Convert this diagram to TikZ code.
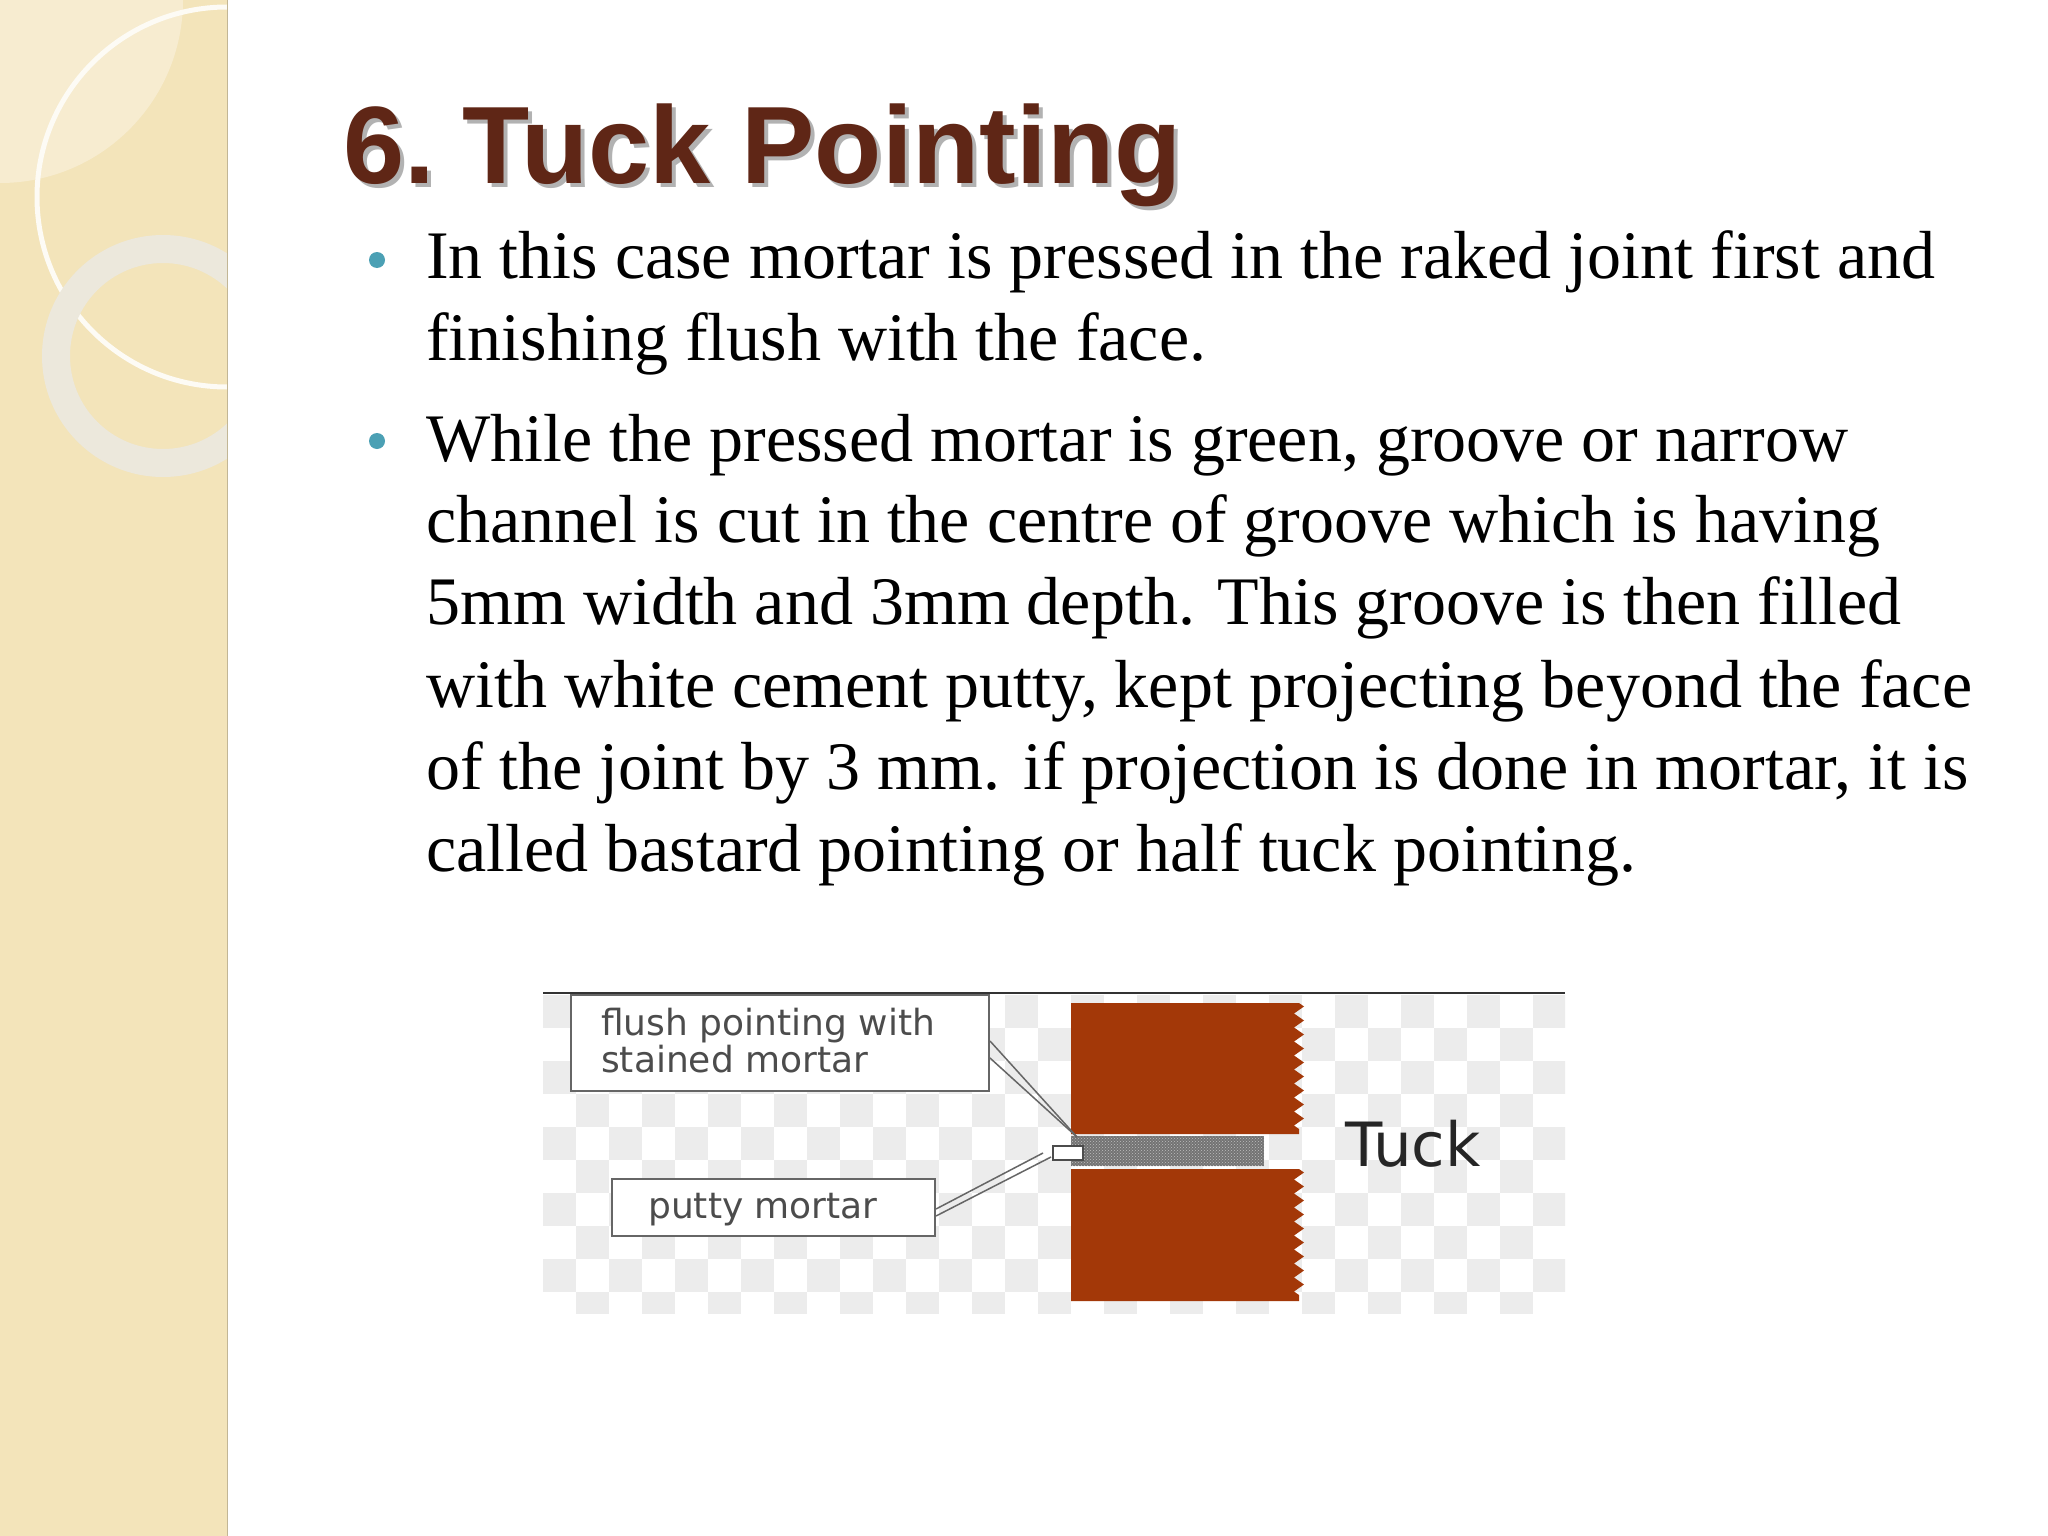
\documentclass[tikz,border=0pt]{standalone}
\usepackage{fontspec}
\setmainfont{Liberation Serif}
\newfontfamily\titlefont{Liberation Sans}
\newfontfamily\labfont{DejaVu Sans}
\usetikzlibrary{decorations.pathmorphing,patterns}
\definecolor{side}{RGB}{243,228,186}
\definecolor{sidelight}{RGB}{247,236,208}
\definecolor{ringc}{RGB}{236,232,220}
\definecolor{titlec}{RGB}{95,38,22}
\definecolor{bulc}{RGB}{75,160,180}
\definecolor{brick}{RGB}{163,56,8}
\definecolor{chk}{RGB}{236,236,236}
\tikzset{
  body/.style={anchor=base west,inner sep=0pt,font=\fontsize{68}{82}\selectfont},
  bul/.style={circle,fill=bulc,minimum size=16pt,inner sep=0pt},
  lab/.style={anchor=base west,inner sep=0pt,font=\labfont\fontsize{36}{40}\selectfont,text=black!70},
  labbox/.style={draw=black!60,line width=2pt,fill=white},
  lead/.style={draw=black!60,line width=1.5pt}
}
\begin{document}
\begin{tikzpicture}[x=1pt,y=-1pt]
\useasboundingbox (0,0) rectangle (2048,1536);
\fill[white] (0,0) rectangle (2048,1536);
% sidebar
\begin{scope}
\clip (0,0) rectangle (227,1536);
\fill[side] (0,0) rectangle (227,1536);
\fill[sidelight] (0,0) circle (183);
\draw[white!85!side,line width=5pt] (227,197) circle (190);
\draw[ringc,line width=28pt] (163,356) circle (107);
\end{scope}
\draw[side!80!black,line width=1pt] (227,0) -- (227,1536);
% title
\node[anchor=base west,inner sep=0pt,text=black!30,font=\titlefont\bfseries\fontsize{110}{120}\selectfont] (tsh) at (347,187) {6.\hspace{-0.12em} Tuck Pointing};
\node[anchor=base west,inner sep=0pt,text=titlec,font=\titlefont\bfseries\fontsize{110}{120}\selectfont] (title) at (343,183) {6.\hspace{-0.12em} Tuck Pointing};
% bullets
\node[bul] (b1) at (377,260) {};
\node[bul] (b2) at (377,441) {};
\node[body] (l1) at (426,278) {In this case mortar is pressed in the raked joint first and};
\node[body] (l2) at (426,360) {finishing flush with the face.};
\node[body] (l3) at (426,461) {While the pressed mortar is green, groove or narrow};
\node[body] (l4) at (426,542) {channel is cut in the centre of groove which is having};
\node[body] (l5) at (426,624) {5mm width and 3mm depth. This groove is then filled};
\node[body] (l6) at (426,707) {with white cement putty, kept projecting beyond the face};
\node[body] (l7) at (426,789) {of the joint by 3 mm. if projection is done in mortar, it is};
\node[body] (l8) at (426,871) {called bastard pointing or half tuck pointing.};
% figure background checker
\begin{scope}
\clip (543,995) rectangle (1565,1313);
\foreach \i in {0,...,31}{\foreach \j in {0,...,9}{
  \pgfmathtruncatemacro{\odd}{mod(\i+\j,2)}
  \ifnum\odd=0 \fill[chk] (543+\i*33,995+\j*33) rectangle ++(33,33);\fi
}}
\end{scope}
\draw[black!80,line width=2.5pt] (543,993) -- (1565,993);
% bricks
\fill[brick] (1071,1003) -- (1299,1003) decorate[decoration={zigzag,segment length=14,amplitude=5}]{-- (1299,1134)} -- (1071,1134) -- cycle;
\fill[brick] (1071,1169) -- (1299,1169) decorate[decoration={zigzag,segment length=14,amplitude=5}]{-- (1299,1301)} -- (1071,1301) -- cycle;
\fill[black!55] (1071,1136) rectangle (1264,1166);
\fill[pattern=crosshatch dots,pattern color=black!25] (1071,1136) rectangle (1264,1166);
\node[draw=black!70,line width=2pt,fill=white,minimum width=30pt,minimum height=14pt,inner sep=0pt] (putty) at (1068,1153) {};
% labels
\node[labbox,minimum width=418pt,minimum height=96pt,inner sep=0pt] (box1) at (780,1043) {};
\node[lab] (t1a) at (601,1035) {flush pointing with};
\node[lab] (t1b) at (601,1072) {stained mortar};
\node[labbox,minimum width=323pt,minimum height=57pt,inner sep=0pt] (box2) at (773.5,1207.5) {};
\node[lab] (t2) at (648,1218) {putty mortar};
\node[anchor=base west,inner sep=0pt,font=\labfont\fontsize{61}{70}\selectfont,text=black!85] (tuck) at (1345,1166) {Tuck};
% leaders
\coordinate (p1) at (1077,1137);
\coordinate (p2) at (1043,1153);
\coordinate (p3) at (1051,1157);
\draw[lead] (box1.east |- 0,1041) -- (p1);
\draw[lead] (box1.east |- 0,1058) -- (p1);
\draw[lead] (box2.east |- 0,1209) -- (p2);
\draw[lead] (box2.east |- 0,1216) -- (p3);
\end{tikzpicture}
\end{document}
